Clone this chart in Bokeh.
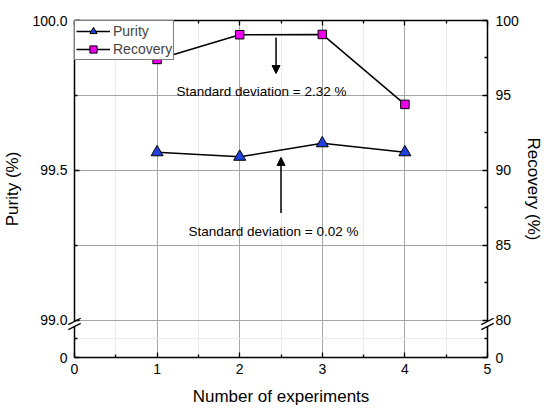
from bokeh.plotting import figure
from bokeh.models import (Range1d, LinearAxis, FixedTicker, CustomJSTickFormatter,
                          Legend, LegendItem, Arrow, NormalHead, Label)
from bokeh.embed import file_html
from bokeh.resources import INLINE

# ---- data ----
experiments = [1, 2, 3, 4]
purity = [99.56, 99.545, 99.59, 99.56]
recovery = [97.4, 99.05, 99.07, 94.4]

x_ticks = [0, 1, 2, 3, 4, 5]
x_minor = [0.5, 1.5, 2.5, 3.5, 4.5]
purity_ticks = [98.875, 99.0, 99.5, 100.0]      # 98.875 is the "0" below the break
purity_minor = [98.9375, 99.25, 99.75]
recovery_ticks = [77.5, 80, 85, 90, 95, 100]     # 77.5 is the "0" below the break
recovery_minor = [78.75, 82.5, 87.5, 92.5, 97.5]

FONT = "Liberation Sans"

p = figure(width=550, height=411, output_backend="svg", toolbar_location=None,
           x_range=Range1d(0, 5), y_range=Range1d(98.875, 100.0),
           min_border_left=74, min_border_right=63, min_border_top=20, min_border_bottom=54)
p.extra_y_ranges = {"rec": Range1d(77.5, 100)}
p.outline_line_color = None
p.background_fill_color = "white"

def style_axis(ax):
    ax.axis_line_color = "black"
    ax.axis_line_width = 1.5
    ax.major_tick_line_color = "black"
    ax.major_tick_line_width = 1.3
    ax.minor_tick_line_color = "black"
    ax.minor_tick_line_width = 1.3
    ax.major_tick_in = 5
    ax.major_tick_out = 0
    ax.minor_tick_in = 3
    ax.minor_tick_out = 0
    ax.major_label_text_font = FONT
    ax.major_label_text_font_size = "14px"
    ax.major_label_text_color = "black"
    ax.axis_label_text_font = FONT
    ax.axis_label_text_font_size = "17px"
    ax.axis_label_text_font_style = "normal"
    ax.axis_label_text_color = "black"

# bottom axis
xax = p.xaxis[0]
xax.ticker = FixedTicker(ticks=x_ticks, minor_ticks=x_minor)
style_axis(xax)
xax.axis_label = "Number of experiments"
xax.major_label_standoff = 6
xax.axis_label_standoff = 10

# left axis
yax = p.yaxis[0]
yax.ticker = FixedTicker(ticks=purity_ticks, minor_ticks=purity_minor)
yax.formatter = CustomJSTickFormatter(code="return tick < 98.95 ? '0' : tick.toFixed(1);")
style_axis(yax)
yax.axis_label = "Purity (%)"
yax.major_label_standoff = 7
yax.axis_label_standoff = 7

# right axis
rax = LinearAxis(y_range_name="rec",
                 ticker=FixedTicker(ticks=recovery_ticks, minor_ticks=recovery_minor),
                 formatter=CustomJSTickFormatter(code="return tick < 79 ? '0' : tick.toFixed(0);"))
style_axis(rax)
rax.axis_label = "Recovery (%)"
rax.major_label_standoff = 8
rax.axis_label_standoff = 2
p.add_layout(rax, "right")

# top axis (ticks only)
tax = LinearAxis(ticker=FixedTicker(ticks=x_ticks, minor_ticks=x_minor),
                 formatter=CustomJSTickFormatter(code="return '';"))
style_axis(tax)
tax.major_label_standoff = 0
tax.major_label_text_font_size = "0px"
p.add_layout(tax, "above")

# grids
p.xgrid.ticker = FixedTicker(ticks=x_ticks, minor_ticks=x_minor)
p.xgrid.grid_line_color = "#a6a6a6"
p.xgrid.grid_line_width = 1
p.xgrid.minor_grid_line_color = "#ececec"
p.ygrid.ticker = FixedTicker(ticks=[99.0, 99.25, 99.5, 99.75], minor_ticks=[98.9375])
p.ygrid.grid_line_color = "#a6a6a6"
p.ygrid.grid_line_width = 1
p.ygrid.minor_grid_line_color = "#ececec"

# series
pl = p.line(experiments, purity, line_color="black", line_width=1.5)
ps = p.scatter(experiments, purity, marker="triangle", size=12,
               fill_color="#2040dd", line_color="black", line_width=1)
rl = p.line(experiments, recovery, line_color="black", line_width=1.5, y_range_name="rec")
rs = p.scatter(experiments, recovery, marker="square", size=8.5,
               fill_color="#ee00ee", line_color="black", line_width=1, y_range_name="rec")

# axis break marks
brk_y = 98.987          # centre of the break, left-axis units
gap = 0.0085            # half gap between the slashes
dx, dy = 0.075, 0.0105  # half extent of a slash
p.quad(left=[-0.02, 4.98], right=[0.02, 5.02], bottom=[brk_y - gap] * 2, top=[brk_y + gap] * 2,
       fill_color="white", line_color=None, level="overlay")
sx0, sy0, sx1, sy1 = [], [], [], []
for xa in (0, 5):
    for s in (-1, 1):
        sx0.append(xa - dx); sy0.append(brk_y + s * gap - dy)
        sx1.append(xa + dx); sy1.append(brk_y + s * gap + dy)
p.segment(x0=sx0, y0=sy0, x1=sx1, y1=sy1, line_color="black", line_width=1.3, level="overlay")

# annotations
p.add_layout(Arrow(end=NormalHead(size=8, fill_color="black", line_color="black"),
                   x_start=2.44, y_start=99.943, x_end=2.44, y_end=99.823,
                   line_color="black", line_width=1.5))
p.add_layout(Arrow(end=NormalHead(size=8, fill_color="black", line_color="black"),
                   x_start=2.5, y_start=99.357, x_end=2.5, y_end=99.543,
                   line_color="black", line_width=1.5))
p.add_layout(Label(x=1.235, y=99.763, text="Standard deviation = 2.32 %",
                   text_font=FONT, text_font_size="13.5px", text_baseline="middle",
                   text_align="left", text_color="black"))
p.add_layout(Label(x=1.38, y=99.297, text="Standard deviation = 0.02 %",
                   text_font=FONT, text_font_size="13.5px", text_baseline="middle",
                   text_align="left", text_color="black"))

legend = Legend(items=[LegendItem(label="Purity", renderers=[pl, ps]),
                       LegendItem(label="Recovery", renderers=[rl, rs])],
                location="top_left", margin=0, padding=1, spacing=0,
                glyph_width=34, glyph_height=18, label_height=18, label_standoff=3,
                label_text_font=FONT, label_text_font_size="14px",
                border_line_color="black", border_line_width=1.2,
                background_fill_color="white", background_fill_alpha=1)
p.add_layout(legend)

open("out.html", "w").write(file_html(p, INLINE))
